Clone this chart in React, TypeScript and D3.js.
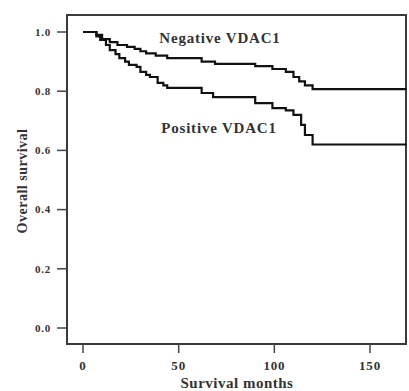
import React, { useEffect, useRef } from 'react';
import * as d3 from 'd3';

// step points: months at which the curve drops, and the survival after the drop
const negTimes = [0, 7, 10, 14, 18, 23, 27, 30, 33, 38, 44, 62, 69, 90, 99, 106, 110, 113, 116, 120];
const negSurv = [1.0, 0.99, 0.976, 0.966, 0.956, 0.95, 0.943, 0.935, 0.928, 0.92, 0.912, 0.9, 0.892, 0.885, 0.875, 0.865, 0.848, 0.833, 0.82, 0.807];
const posTimes = [0, 7, 9, 12, 14, 17, 19, 22, 24, 28, 30, 33, 35, 39, 42, 44, 62, 68, 90, 99, 106, 110, 114, 116, 120];
const posSurv = [1.0, 0.985, 0.973, 0.956, 0.939, 0.925, 0.912, 0.9, 0.889, 0.882, 0.865, 0.855, 0.848, 0.828, 0.82, 0.811, 0.794, 0.78, 0.76, 0.743, 0.735, 0.72, 0.686, 0.652, 0.62];
const endMonth = 169;
const xTicks = [0, 50, 100, 150];
const yTicks = [0, 0.2, 0.4, 0.6, 0.8, 1.0];

export default function App() {
  const ref = useRef<SVGSVGElement>(null);

  useEffect(() => {
    const svg = d3.select(ref.current);
    svg.selectAll('*').remove();

    const frame = { left: 67, right: 406, top: 15, bottom: 344 };
    const x = d3.scaleLinear().domain([0, 150]).range([83, 370]);
    const y = d3.scaleLinear().domain([0, 1]).range([328, 32]);
    const font = '"Liberation Serif", "Times New Roman", serif';

    svg
      .append('rect')
      .attr('x', frame.left)
      .attr('y', frame.top)
      .attr('width', frame.right - frame.left)
      .attr('height', frame.bottom - frame.top)
      .attr('fill', 'none')
      .attr('stroke', '#3a3a3a')
      .attr('stroke-width', 2);

    // y axis ticks
    const yt = svg.append('g');
    yTicks.forEach((v) => {
      yt.append('line')
        .attr('x1', 57)
        .attr('x2', frame.left)
        .attr('y1', y(v))
        .attr('y2', y(v))
        .attr('stroke', '#444')
        .attr('stroke-width', 1.5);
      yt.append('text')
        .attr('x', 43)
        .attr('y', y(v))
        .attr('dy', '0.35em')
        .attr('text-anchor', 'middle')
        .attr('font-family', font)
        .attr('font-weight', 'bold')
        .attr('font-size', 11)
        .attr('letter-spacing', 0.8)
        .attr('fill', '#333')
        .text(v.toFixed(1));
    });

    // x axis ticks
    const xt = svg.append('g');
    xTicks.forEach((v) => {
      xt.append('line')
        .attr('x1', x(v))
        .attr('x2', x(v))
        .attr('y1', frame.bottom)
        .attr('y2', 353)
        .attr('stroke', '#444')
        .attr('stroke-width', 1.5);
      xt.append('text')
        .attr('x', x(v))
        .attr('y', 370)
        .attr('text-anchor', 'middle')
        .attr('font-family', font)
        .attr('font-weight', 'bold')
        .attr('font-size', 13)
        .attr('letter-spacing', 0.8)
        .attr('fill', '#333')
        .text(v);
    });

    svg
      .append('text')
      .attr('x', 237)
      .attr('y', 388)
      .attr('text-anchor', 'middle')
      .attr('font-family', font)
      .attr('font-weight', 'bold')
      .attr('font-size', 15)
      .attr('letter-spacing', 0.5)
      .attr('fill', '#333')
      .text('Survival months');

    svg
      .append('text')
      .attr('transform', 'translate(27,181) rotate(-90)')
      .attr('text-anchor', 'middle')
      .attr('font-family', font)
      .attr('font-weight', 'bold')
      .attr('font-size', 14)
      .attr('letter-spacing', 0.5)
      .attr('fill', '#333')
      .text('Overall survival');

    const line = d3
      .line<[number, number]>()
      .x((d) => x(d[0]))
      .y((d) => y(d[1]))
      .curve(d3.curveStepAfter);

    const curves = [
      { t: negTimes, s: negSurv },
      { t: posTimes, s: posSurv },
    ];
    curves.forEach((c) => {
      const pts: [number, number][] = c.t.map((t, i) => [t, c.s[i]]);
      pts.push([endMonth, c.s[c.s.length - 1]]);
      svg
        .append('path')
        .datum(pts)
        .attr('d', line)
        .attr('fill', 'none')
        .attr('stroke', '#111')
        .attr('stroke-width', 2.2);
    });

    svg
      .append('text')
      .attr('x', 220)
      .attr('y', 43)
      .attr('text-anchor', 'middle')
      .attr('font-family', font)
      .attr('font-weight', 'bold')
      .attr('font-size', 15)
      .attr('letter-spacing', 0.8)
      .attr('fill', '#333')
      .text('Negative VDAC1');

    svg
      .append('text')
      .attr('x', 219)
      .attr('y', 133)
      .attr('text-anchor', 'middle')
      .attr('font-family', font)
      .attr('font-weight', 'bold')
      .attr('font-size', 15)
      .attr('letter-spacing', 0.8)
      .attr('fill', '#333')
      .text('Positive VDAC1');
  }, []);

  return (
    <svg
      ref={ref}
      width={409}
      height={391}
      style={{ position: 'absolute', left: 0, top: 0, background: '#fff' }}
    />
  );
}
